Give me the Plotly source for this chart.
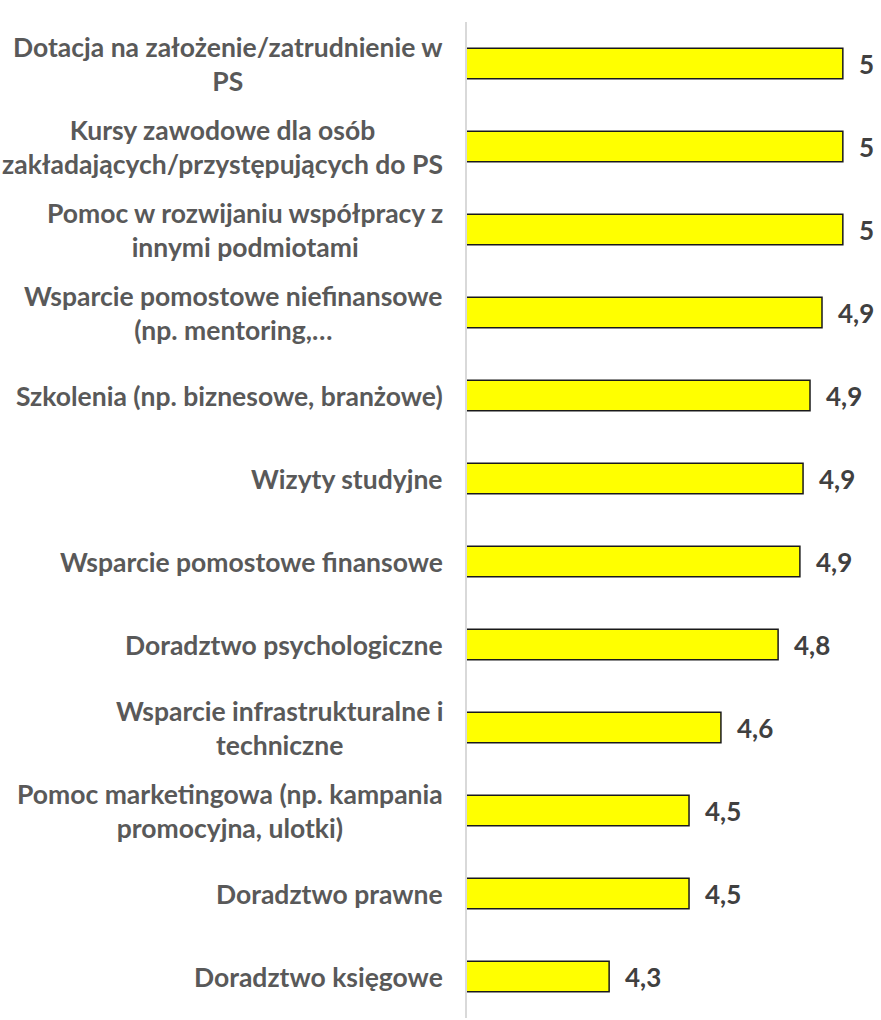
import plotly.graph_objects as go

categories = [
    "Dotacja na założenie/zatrudnienie w<br>PS",
    "Kursy zawodowe dla osób<br>zakładających/przystępujących do PS",
    "Pomoc w rozwijaniu współpracy z<br>innymi podmiotami",
    "Wsparcie pomostowe niefinansowe<br>(np. mentoring,…",
    "Szkolenia (np. biznesowe, branżowe)",
    "Wizyty studyjne",
    "Wsparcie pomostowe finansowe",
    "Doradztwo psychologiczne",
    "Wsparcie infrastrukturalne i<br>techniczne",
    "Pomoc marketingowa (np. kampania<br>promocyjna, ulotki)",
    "Doradztwo prawne",
    "Doradztwo księgowe",
]
values = [4.99, 4.99, 4.99, 4.924, 4.886, 4.864, 4.854, 4.785, 4.604, 4.503, 4.503, 4.25]
value_labels = ["5", "5", "5", "4,9", "4,9", "4,9", "4,9", "4,8", "4,6", "4,5", "4,5", "4,3"]

FONT = "Lato, 'Open Sans', sans-serif"

fig = go.Figure(go.Bar(
    x=values, y=categories, orientation="h",
    marker=dict(color="#FFFF00", line=dict(color="#1a1a1a", width=1.5)),
    hoverinfo="skip",
))

annotations = []
for c, v, t in zip(categories, values, value_labels):
    annotations.append(dict(
        x=v, y=c, xref="x", yref="y", text=t, showarrow=False,
        xanchor="left", xshift=14,
        font=dict(family=FONT, size=26, color="#404040", weight="bold"),
    ))
    annotations.append(dict(
        x=0, y=c, xref="paper", yref="y", text=c, showarrow=False,
        xanchor="right", xshift=-22, align="center",
        font=dict(family=FONT, size=26.5, color="#595959", weight="bold"),
    ))

fig.update_layout(
    width=881, height=1020,
    margin=dict(l=467, r=35, t=22, b=2),
    paper_bgcolor="white", plot_bgcolor="white",
    showlegend=False, bargap=0.63,
    annotations=annotations,
    xaxis=dict(range=[3.8, 5.0], visible=False, showgrid=False, zeroline=False),
    yaxis=dict(autorange="reversed", showticklabels=False, showgrid=False,
               showline=True, linecolor="#d9d9d9", linewidth=1.5, ticks=""),
)

fig.write_html("out.html", config={"displayModeBar": False},
               post_script="document.body.style.margin='0';document.body.style.overflow='hidden';")
